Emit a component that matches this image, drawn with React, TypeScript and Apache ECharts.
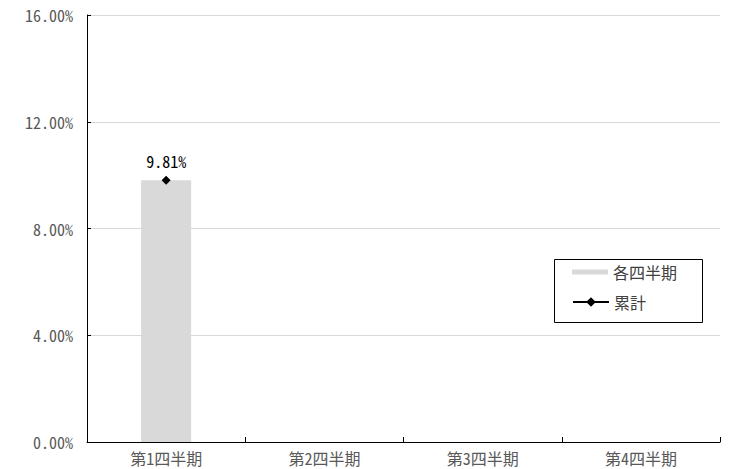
import React, { useEffect, useRef } from "react";
import * as echarts from "echarts";

const categories = ["第1四半期", "第2四半期", "第3四半期", "第4四半期"];
const quarterValues: (number | null)[] = [9.81, null, null, null];
const cumulativeValues: (number | null)[] = [9.81, null, null, null];
const yTicks = [0, 4, 8, 12, 16];

const FONT = "'Noto Sans Mono CJK JP', 'Noto Sans CJK JP', sans-serif";

export default function App() {
  const ref = useRef<HTMLDivElement>(null);
  useEffect(() => {
    if (!ref.current) return;
    const chart = echarts.init(ref.current, undefined, { renderer: "svg" });
    chart.setOption({
      animation: false,
      backgroundColor: "#ffffff",
      textStyle: { fontFamily: FONT },
      grid: { left: 87, right: 9, top: 15, bottom: 27, containLabel: false },
      xAxis: {
        type: "category",
        data: categories,
        boundaryGap: true,
        axisLine: { show: true, lineStyle: { color: "#000", width: 1 } },
        axisTick: { show: true, inside: true, length: 5, alignWithLabel: false, lineStyle: { color: "#000" } },
        axisLabel: { color: "#595959", fontSize: 16, fontFamily: FONT, margin: 8 },
        splitLine: { show: false },
      },
      yAxis: {
        type: "value",
        min: yTicks[0],
        max: yTicks[yTicks.length - 1],
        interval: 4,
        axisLine: { show: true, lineStyle: { color: "#000", width: 1 } },
        axisTick: { show: true, inside: true, length: 4, lineStyle: { color: "#000" } },
        axisLabel: {
          color: "#595959",
          fontSize: 16,
          fontFamily: FONT,
          margin: 14,
          formatter: (v: number) => v.toFixed(2) + "%",
        },
        splitLine: { show: true, lineStyle: { color: "#d9d9d9", width: 1 } },
      },
      legend: [
        {
          data: [{ name: "各四半期", icon: "rect" }],
          left: 572,
          top: 264,
          padding: 0,
          itemWidth: 36,
          itemHeight: 5,
          itemGap: 4,
          textStyle: { color: "#404040", fontSize: 16, fontFamily: FONT },
        },
        {
          data: [{ name: "累計" }],
          left: 572,
          top: 294,
          padding: 0,
          itemWidth: 36,
          itemHeight: 12,
          itemGap: 4,
          textStyle: { color: "#404040", fontSize: 16, fontFamily: FONT },
        },
      ],
      graphic: [
        {
          type: "rect",
          left: 552,
          top: 257,
          shape: { x: 0, y: 0, width: 148, height: 63 },
          style: { fill: "none", stroke: "#000", lineWidth: 1 },
          z: 10,
        },
      ],
      series: [
        {
          name: "各四半期",
          type: "bar",
          data: quarterValues,
          barWidth: "31.6%",
          itemStyle: { color: "#d9d9d9" },
        },
        {
          name: "累計",
          type: "line",
          data: cumulativeValues,
          symbol: "diamond",
          symbolSize: 9,
          itemStyle: { color: "#000" },
          lineStyle: { color: "#000", width: 1.5 },
          label: {
            show: true,
            position: "top",
            distance: 7,
            color: "#000",
            fontSize: 16,
            fontFamily: FONT,
            formatter: (p: any) => Number(p.value).toFixed(2) + "%",
          },
        },
      ],
    });
    return () => chart.dispose();
  }, []);
  return <div ref={ref} style={{ width: 729, height: 469, position: "absolute", left: 0, top: 0 }} />;
}
